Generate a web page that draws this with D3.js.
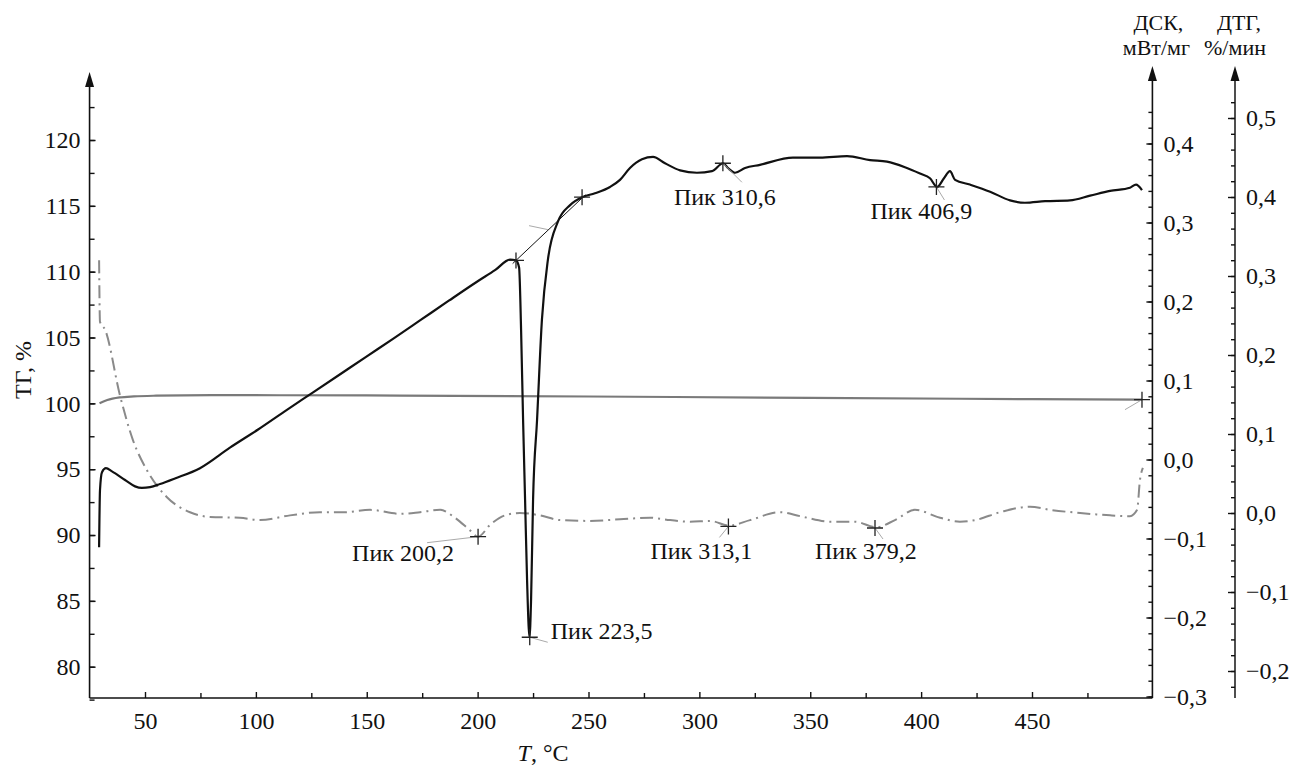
<!DOCTYPE html>
<html>
<head>
<meta charset="utf-8">
<script src="https://d3js.org/d3.v7.min.js"></script>
<style>
  body { margin: 0; background: #fff; }
</style>
</head>
<body>
<div id="chart"></div>
<script>
// ---- data: [T, value] ----
const dscCurve = [[29.3,-0.111],[29.7,-0.039],[30.6,-0.016],[32.4,-0.011],[35.1,-0.015],[41.0,-0.026],[45.5,-0.034],
  [48.6,-0.036],[52.3,-0.035],[56.8,-0.031],[63.5,-0.024],[74.8,-0.011],[88.3,0.015],[101.0,0.038],[113.0,0.061],
  [125.8,0.085],[137.5,0.107],[149.7,0.130],[162.0,0.153],[174.0,0.176],[187.0,0.201],[199.7,0.225],[208.0,0.240],
  [214.6,0.253],[217.3,0.252],
  [218.7,0.243],[219.6,0.164],[220.5,0.050],[221.4,-0.051],[222.3,-0.153],[223.4,-0.225],[224.1,-0.178],[225.0,-0.051],
  [226.8,0.050],[229.0,0.177],[231.7,0.253],[236.2,0.301],[241.7,0.322],[247.1,0.332],[252.9,0.337],[259.7,0.345],
  [264.2,0.354],[268.7,0.369],[274.1,0.380],[279.1,0.383],[284.5,0.375],[291.3,0.366],[298.9,0.363],[305.7,0.365],
  [310.7,0.375],[312.9,0.369],[316.1,0.363],[320.6,0.369],[327.3,0.373],[342.2,0.382],[354.4,0.382],[366.6,0.384],
  [377.0,0.379],[384.6,0.377],[392.7,0.370],[399.5,0.362],[404.0,0.356],[407.2,0.345],[410.3,0.356],[413.0,0.365],
  [415.3,0.354],[422.0,0.348],[431.1,0.339],[440.1,0.328],[446.8,0.325],[455.9,0.327],[467.1,0.328],[476.2,0.334],
  [485.2,0.340],[494.2,0.344],[496.9,0.348],[499.6,0.341]];

const dtgCurve = [[29.3,0.320],[29.7,0.242],[32.0,0.232],[38.7,0.149],[44.6,0.092],[50.9,0.054],[59.9,0.020],
  [70.3,0.001],[79.3,-0.005],[92.8,-0.006],[101.9,-0.009],[115.4,-0.003],[128.9,0.001],[140.2,0.001],[151.5,0.004],
  [165.0,-0.001],[174.0,0.001],[183.1,0.004],[189.8,-0.006],[196.6,-0.022],[200.2,-0.030],[205.6,-0.015],
  [212.3,-0.003],[219.1,0.000],[228.1,-0.003],[237.2,-0.009],[250.7,-0.010],[264.2,-0.008],[277.7,-0.006],
  [286.8,-0.009],[295.8,-0.011],[304.8,-0.010],[313.4,-0.016],[322.8,-0.009],[336.4,0.001],[345.4,-0.004],
  [358.9,-0.011],[370.2,-0.011],[379.7,-0.018],[388.2,-0.009],[397.2,0.004],[408.5,-0.006],[417.5,-0.011],
  [424.3,-0.009],[435.6,0.001],[449.1,0.008],[458.1,0.004],[471.7,0.000],[485.2,-0.003],[494.2,-0.004],
  [497.4,0.004],[498.7,0.042],[500.0,0.057]];

const tgCurve = [[29.5,100.0],[33,100.25],[38.6,100.45],[45,100.53],[55,100.58],[80,100.62],[150,100.6],
  [250,100.52],[350,100.42],[450,100.32],[499.6,100.28]];

const dscPeaks = [
  {t: 223.5, v: -0.225, label: "Пик 223,5"},
  {t: 310.6, v: 0.375, label: "Пик 310,6"},
  {t: 406.9, v: 0.345, label: "Пик 406,9"}
];
const dtgPeaks = [
  {t: 200.2, v: -0.030, label: "Пик 200,2"},
  {t: 313.1, v: -0.017, label: "Пик 313,1"},
  {t: 379.2, v: -0.019, label: "Пик 379,2"}
];
const dscOnset = [[217.3, 0.252], [247.1, 0.332]];
const dscTangent = [[215.8, 0.248], [248.6, 0.335]];
const tgEnd = [499.6, 100.28];

const xTicks = [50, 100, 150, 200, 250, 300, 350, 400, 450];
const tgTicks = [80, 85, 90, 95, 100, 105, 110, 115, 120];
const dscTicks = [-0.3, -0.2, -0.1, 0.0, 0.1, 0.2, 0.3, 0.4];
const dtgTicks = [-0.2, -0.1, 0.0, 0.1, 0.2, 0.3, 0.4, 0.5];

// label placement (pixels from marker)
const labelPos = {
  "Пик 223,5": {dx: 21, dy: 2, lx: 18, ly: 5},
  "Пик 310,6": {dx: -49, dy: 42, lx: 19, ly: 19},
  "Пик 406,9": {dx: -66, dy: 32, lx: 8, ly: 13},
  "Пик 200,2": {dx: -126, dy: 24, lx: -51, ly: 6},
  "Пик 313,1": {dx: -78, dy: 33, lx: -9, ly: 11},
  "Пик 379,2": {dx: -60, dy: 31, lx: 8, ly: 11}
};

////////////////////////////////////////////////////////////
const W = 1290, H = 769;
const FONT = "Liberation Serif";
const svg = d3.select("#chart").append("svg").attr("width", W).attr("height", H)
  .attr("font-family", FONT);

const x = d3.scaleLinear().domain([50, 450]).range([145, 1032]);
const yTg = d3.scaleLinear().domain([80, 120]).range([666.7, 140]);
const yDsc = d3.scaleLinear().domain([-0.3, 0.4]).range([696.5, 143.5]);
const yDtg = d3.scaleLinear().domain([-0.2, 0.5]).range([671, 118]);

const x0 = x(25), x1 = x(504.3), xDtg = 1235, yBot = 698;
const fontSize = 24;
const ru = d3.formatLocale({decimal: ",", thousands: " ", grouping: [3], currency: ["", ""], minus: "\u2212"});
const f1 = ru.format(".1f");

function styleAxis(g) {
  g.attr("font-size", fontSize).attr("font-family", FONT);
  g.select(".domain").remove();
  g.selectAll(".tick line").attr("stroke", "#111").attr("stroke-width", 1.4);
  g.selectAll(".tick text").attr("fill", "#111");
}
function arrow(xc, ytip) {
  svg.append("path")
    .attr("d", `M${xc},${ytip} L${xc - 4.5},${ytip + 15} L${xc + 4.5},${ytip + 15} Z`)
    .attr("fill", "#111");
}

// axis lines
svg.append("line").attr("x1", x0).attr("x2", x0).attr("y1", yBot).attr("y2", 80).attr("stroke", "#111").attr("stroke-width", 1.6);
svg.append("line").attr("x1", x0).attr("x2", x1).attr("y1", yBot).attr("y2", yBot).attr("stroke", "#111").attr("stroke-width", 1.6);
svg.append("line").attr("x1", x1).attr("x2", x1).attr("y1", yBot).attr("y2", 74).attr("stroke", "#111").attr("stroke-width", 1.6);
svg.append("line").attr("x1", xDtg).attr("x2", xDtg).attr("y1", yBot).attr("y2", 74).attr("stroke", "#222").attr("stroke-width", 1.6);
arrow(x0, 72); arrow(x1, 66); arrow(xDtg, 66);

// left TG axis
svg.append("g").attr("transform", `translate(${x0},0)`)
  .call(d3.axisLeft(yTg).tickValues(d3.range(77.5, 123, 2.5)).tickFormat("").tickSizeInner(-5).tickSizeOuter(0))
  .call(styleAxis);
svg.append("g").attr("transform", `translate(${x0},0)`)
  .call(d3.axisLeft(yTg).tickValues(tgTicks).tickFormat(d3.format("d")).tickSizeInner(-6).tickSizeOuter(0).tickPadding(9))
  .call(styleAxis);

// bottom axis
svg.append("g").attr("transform", `translate(0,${yBot})`)
  .call(d3.axisBottom(x).tickValues(d3.range(75, 500, 50)).tickFormat("").tickSizeInner(-5).tickSizeOuter(0))
  .call(styleAxis);
svg.append("g").attr("transform", `translate(0,${yBot})`)
  .call(d3.axisBottom(x).tickValues(xTicks).tickFormat(d3.format("d")).tickSizeInner(-6).tickSizeOuter(0).tickPadding(14))
  .call(styleAxis);

// DSC axis
svg.append("g").attr("transform", `translate(${x1},0)`)
  .call(d3.axisRight(yDsc).tickValues(d3.range(-15, 23).map(i => i * 0.02)).tickFormat("").tickSizeInner(-4).tickSizeOuter(0))
  .call(styleAxis);
svg.append("g").attr("transform", `translate(${x1},0)`)
  .call(d3.axisRight(yDsc).tickValues(dscTicks).tickFormat(f1).tickSizeInner(-6).tickSizeOuter(0).tickPadding(11))
  .call(styleAxis);

// DTG axis
svg.append("g").attr("transform", `translate(${xDtg},0)`)
  .call(d3.axisRight(yDtg).tickValues(d3.range(-11, 27).map(i => i * 0.02)).tickFormat("").tickSizeInner(-4).tickSizeOuter(0))
  .call(styleAxis);
svg.append("g").attr("transform", `translate(${xDtg},0)`)
  .call(d3.axisRight(yDtg).tickValues(dtgTicks).tickFormat(f1).tickSizeInner(-7).tickSizeOuter(0).tickPadding(11))
  .call(styleAxis);

// axis titles
const title = (tx, ty, s) => svg.append("text").attr("x", tx).attr("y", ty).attr("font-size", 22)
  .attr("font-family", FONT).attr("text-anchor", "middle").attr("fill", "#111").text(s);
title(x1 + 6, 30, "ДСК,");
title(x1 + 4, 55, "мВт/мг");
title(xDtg + 4, 30, "ДТГ,");
title(xDtg, 55, "%/мин");
svg.append("text").attr("transform", "translate(31,370) rotate(-90)").attr("text-anchor", "middle")
  .attr("font-size", fontSize).attr("font-family", FONT).attr("fill", "#111").text("ТГ, %");
const xt = svg.append("text").attr("x", 543).attr("y", 761).attr("text-anchor", "middle")
  .attr("font-size", fontSize).attr("font-family", FONT).attr("fill", "#111");
xt.append("tspan").attr("font-style", "italic").text("T");
xt.append("tspan").text(", °C");

// curves
const tgLine = d3.line().x(d => x(d[0])).y(d => yTg(d[1])).curve(d3.curveMonotoneX);
const dscLine = d3.line().x(d => x(d[0])).y(d => yDsc(d[1])).curve(d3.curveMonotoneX);
const dtgLine = d3.line().x(d => x(d[0])).y(d => yDtg(d[1])).curve(d3.curveMonotoneX);

svg.append("path").datum(tgCurve).attr("d", tgLine)
  .attr("fill", "none").attr("stroke", "#7a7a7a").attr("stroke-width", 2.2);
svg.append("path").datum(dtgCurve).attr("d", dtgLine)
  .attr("fill", "none").attr("stroke", "#8a8a8a").attr("stroke-width", 2)
  .attr("stroke-dasharray", "13,5,2,5");
svg.append("path").datum(dscCurve).attr("d", dscLine)
  .attr("fill", "none").attr("stroke", "#111").attr("stroke-width", 2.2).attr("stroke-linejoin", "round");

// tangent for onset
svg.append("path").datum(dscTangent).attr("d", d3.line().x(d => x(d[0])).y(d => yDsc(d[1])))
  .attr("fill", "none").attr("stroke", "#111").attr("stroke-width", 1);
svg.append("line")
  .attr("x1", x(223.2)).attr("y1", yDsc(0.296)).attr("x2", x(231.7)).attr("y2", yDsc(0.291))
  .attr("stroke", "#aaa").attr("stroke-width", 1);

// markers
function cross(px, py) {
  svg.append("path").attr("d", `M${px - 8},${py} H${px + 8} M${px},${py - 8} V${py + 8}`)
    .attr("stroke", "#222").attr("stroke-width", 1.3).attr("fill", "none");
}
function annotate(peaks, yScale) {
  peaks.forEach(p => {
    const px = x(p.t), py = yScale(p.v), o = labelPos[p.label];
    svg.append("line").attr("x1", px).attr("y1", py).attr("x2", px + o.lx).attr("y2", py + o.ly)
      .attr("stroke", "#aaa").attr("stroke-width", 1);
    cross(px, py);
    svg.append("text").attr("x", px + o.dx).attr("y", py + o.dy).attr("font-size", fontSize)
      .attr("font-family", FONT).attr("fill", "#111").text(p.label);
  });
}
annotate(dscPeaks, yDsc);
annotate(dtgPeaks, yDtg);
dscOnset.forEach(d => cross(x(d[0]), yDsc(d[1])));

const ex = x(tgEnd[0]), ey = yTg(tgEnd[1]);
svg.append("line").attr("x1", ex).attr("y1", ey).attr("x2", ex - 17).attr("y2", ey + 10)
  .attr("stroke", "#aaa").attr("stroke-width", 1);
cross(ex, ey);
</script>
</body>
</html>
